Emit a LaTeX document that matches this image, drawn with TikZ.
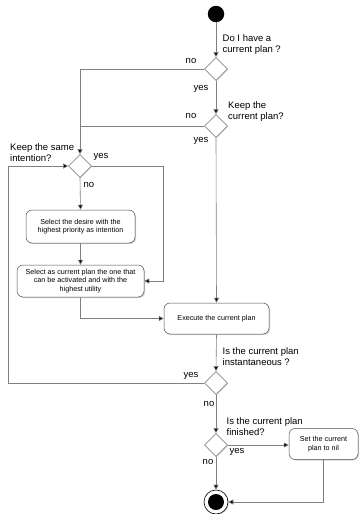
\documentclass[tikz,border=0pt]{standalone}
\usepackage{fontspec}
\setmainfont{Liberation Sans}
\usetikzlibrary{shapes.geometric,arrows.meta,shadows,calc}
\begin{document}
\begin{tikzpicture}[x=1pt,y=-1pt,
  flow/.style={draw=black!50,line width=0.6pt,-{Triangle[length=5pt,width=5pt,fill=black]}},
  plain/.style={draw=black!50,line width=0.6pt},
  decision/.style={diamond,draw=black!45,fill=white,line width=0.6pt,inner sep=0pt,
    minimum width=23pt,minimum height=23pt,
    drop shadow={opacity=0.35,shadow xshift=0.8pt,shadow yshift=-0.8pt}},
  action/.style={rectangle,rounded corners=6pt,draw=black!70,fill=white,line width=0.5pt,
    align=center,font=\fontsize{7.2}{8.6}\selectfont,inner sep=1pt,
    drop shadow={opacity=0.35,shadow xshift=1pt,shadow yshift=-1pt}},
  lbl/.style={font=\fontsize{9.5}{11}\selectfont,inner sep=0pt,align=left}]
\useasboundingbox (0,0) rectangle (359,514);

% start and end states
\node[circle,fill=black,minimum size=16.5pt,inner sep=0pt] (start) at (216,14) {};
\node[circle,draw=black,fill=white,line width=0.6pt,minimum size=24pt,inner sep=0pt,
  drop shadow={opacity=0.35,shadow xshift=0.8pt,shadow yshift=-0.8pt}] (end) at (216,502) {};
\node[circle,fill=black,minimum size=16pt,inner sep=0pt] (endin) at (end) {};

% decisions
\node[decision] (d1) at (216,69) {};
\node[decision] (d2) at (216,126) {};
\node[decision] (d3) at (80,166) {};
\node[decision] (d4) at (216,383) {};
\node[decision] (d5) at (216,445) {};

% actions
\node[action,minimum width=109pt,minimum height=33pt] (desire) at (80.5,226.5)
  {Select the desire with the\\highest priority as intention};
\node[action,minimum width=127pt,minimum height=32pt] (plan) at (80.5,281)
  {Select as current plan the one that\\can be activated and with the\\highest utility};
\node[action,minimum width=105pt,minimum height=31pt] (exec) at (216.5,318.5)
  {Execute the current plan};
\node[action,minimum width=69pt,minimum height=31pt] (nil) at (323.5,444)
  {Set the current\\plan to nil};

% helper corners
\coordinate (left) at (8,383);
\coordinate (mid) at (80,69);
\coordinate (yesturn) at (163,166);

% connectors
\draw[flow] (start) -- (d1.north);
\draw[flow] (d1.south) -- (d2.north);
\draw[plain] (d1.west) -- (mid);
\draw[flow] (mid) -- (d3.north);
\draw[plain] (d2.west) -- (d2.west -| mid);
\draw[flow] (d2.south) -- (exec.north);
\draw[flow] (d3.east) -- (yesturn) |- (plan.east);
\draw[flow] (d3.south) -- (desire.north);
\draw[flow] (desire.south) -- (plan.north);
\draw[flow] (plan.south) |- (exec.west);
\draw[flow] (exec.south) -- (d4.north);
\draw[flow] (d4.west) -- (left) |- (d3.west);
\draw[flow] (d4.south) -- (d5.north);
\draw[flow] (d5.east) -- (d5.east -| nil.west);
\draw[flow] (d5.south) -- (end.north);
\draw[flow] (nil.south) |- (end.east);

% labels
\node[lbl,anchor=north west] (q1) at (222.5,34) {Do I have a\\current plan ?};
\node[lbl,anchor=center] (l1n) at (191,61) {no};
\node[lbl,anchor=center] (l1y) at (201,89) {yes};
\node[lbl,anchor=north west] (q2) at (228,101) {Keep the\\current plan?};
\node[lbl,anchor=center] (l2n) at (191,116) {no};
\node[lbl,anchor=center] (l2y) at (201,141) {yes};
\node[lbl,anchor=north west] (q3) at (10,143) {Keep the same\\intention?};
\node[lbl,anchor=center] (l3y) at (101,157) {yes};
\node[lbl,anchor=center] (l3n) at (89,185) {no};
\node[lbl,anchor=north west] (q4) at (222.5,347) {Is the current plan\\instantaneous ?};
\node[lbl,anchor=center] (l4y) at (191,376) {yes};
\node[lbl,anchor=center] (l4n) at (209,404) {no};
\node[lbl,anchor=north west] (q5) at (226.5,417) {Is the current plan\\finished?};
\node[lbl,anchor=center] (l5y) at (237,452) {yes};
\node[lbl,anchor=center] (l5n) at (208,462) {no};
\end{tikzpicture}
\end{document}
